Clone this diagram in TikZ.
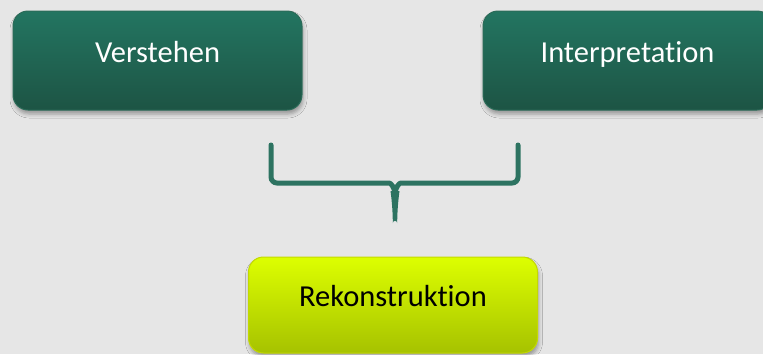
\documentclass[tikz,border=0pt]{standalone}
\usepackage{fontspec}
\setmainfont[Ligatures=NoCommon]{Carlito}
\usetikzlibrary{positioning,calc,shadows.blur}
\definecolor{canvas}{HTML}{E6E6E6}
\definecolor{pinetop}{HTML}{237561}
\definecolor{pinebottom}{HTML}{1D5444}
\definecolor{pineline}{HTML}{2B6B58}
\definecolor{limetop}{HTML}{DDFF00}
\definecolor{limebottom}{HTML}{A6C200}
\definecolor{limeline}{HTML}{C3D900}
\definecolor{bracecol}{HTML}{2D7361}
\tikzstyle{box}=[rounded corners=15pt, line width=1pt, minimum width=289pt,
    font=\fontsize{30.5}{36}\selectfont,
    blur shadow={shadow xshift=1pt, shadow yshift=-4pt, shadow blur radius=4pt, shadow opacity=35}]
\tikzstyle{darkbox}=[box, draw=pineline, top color=pinetop, bottom color=pinebottom,
    text=white, minimum height=99pt, text height=20pt, text depth=17pt]
\tikzstyle{limebox}=[box, draw=limeline, top color=limetop, bottom color=limebottom,
    text=black, minimum height=96pt, text height=20pt, text depth=18pt]
\tikzstyle{brace}=[draw=bracecol, line width=5pt, line cap=round, rounded corners=6pt]

\begin{document}
\begin{tikzpicture}[x=1pt,y=-1pt]

    % canvas
    \path[use as bounding box, fill=canvas] (0,0) rectangle (763,354);

    % top boxes
    \node[darkbox] (verstehen) at (157.5,60.5) {Verstehen};
    \node[darkbox] (interp) at (627.5,60.5) {Interpretation};

    % result box
    \node[limebox] (rekon) at (393,305) {Rekonstruktion};

    % brace
    \coordinate (bl) at (271,145);
    \coordinate (br) at (518,145);
    \coordinate (mid) at (395,193);
    \coordinate (tip) at (395,223);
    \draw[brace] (bl) -- (271,183) -- (383,183) .. controls (391,183) and (394,187) .. (mid);
    \draw[brace] (br) -- (518,183) -- (407,183) .. controls (399,183) and (396,187) .. (mid);
    \fill[bracecol] ($(mid)+(-4.5,-2)$) -- ($(mid)+(4.5,-2)$)
        .. controls ($(mid)+(2.8,10)$) and ($(tip)+(2.2,-8)$) .. ($(tip)+(2.2,0)$)
        arc[start angle=0, end angle=-180, radius=2.2]
        .. controls ($(tip)+(-2.2,-8)$) and ($(mid)+(-2.8,10)$) .. cycle;

\end{tikzpicture}
\end{document}
